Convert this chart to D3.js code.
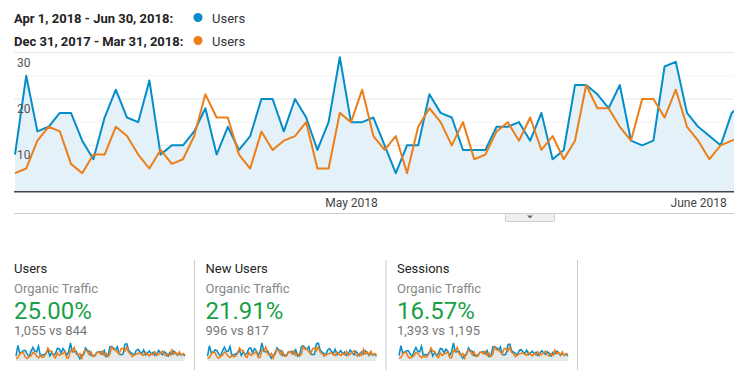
<!DOCTYPE html>
<html lang="en">
<head>
    <meta charset="UTF-8">
    <title>Users - Organic Traffic</title>
    <style>
        body { margin: 0; background: #fff; }
        svg { display: block; font-family: Roboto, "Noto Sans", sans-serif; }
    </style>
</head>
<body>
    <svg id="container" width="734" height="377"></svg>

<script src="https://cdn.jsdelivr.net/npm/d3@7"></script>
<script>
    // main chart: daily users, Apr 1 2018 onward (visible part only)
    let usersCurr = [8, 25, 13, 14, 17, 17, 11, 7, 16, 22, 16, 15, 24, 8, 10, 10, 13, 18, 8, 14,
        9, 12, 20, 20, 13, 20, 16, 9, 15, 29, 15, 15, 16, 10, 4, 10, 10, 21, 17, 16,
        9, 9, 9, 14, 14, 15, 11, 17, 7, 9, 23, 23, 21, 18, 23, 11, 10, 11, 27, 28,
        17, 14, 12, 10, 17, 19]
    let usersPrev = [4, 5, 11, 14, 13, 6, 4, 8, 8, 14, 12, 8, 5, 9, 6, 7, 12, 21, 16, 16,
        8, 5, 13, 9, 11, 12, 15, 5, 5, 17, 15, 22, 12, 9, 12, 4, 14, 18, 15, 10,
        15, 7, 8, 13, 15, 11, 16, 9, 12, 7, 11, 23, 18, 18, 14, 11, 20, 20, 16, 22,
        14, 11, 7, 10, 11, 12]
    // rest of the quarter, only seen in the sparkline
    let usersCurrTail = [15, 12, 18, 10, 13, 16, 11, 14, 9, 12, 17, 13, 10, 15, 12, 8, 14, 11, 16, 13, 9, 12, 10, 11, 8]
    let usersPrevTail = [13, 10, 9, 14, 11, 8, 12, 10, 15, 9, 11, 13, 16, 10, 8, 12, 9, 18, 11, 14, 10, 15, 9, 12, 10]

    let newCurr = [7, 22, 12, 13, 16, 15, 10, 7, 15, 20, 14, 14, 21, 8, 9, 10, 12, 16, 8, 13, 9, 11, 18, 19, 12, 18, 15, 8, 14, 26,
        14, 13, 15, 9, 4, 9, 10, 19, 16, 15, 8, 9, 8, 13, 13, 14, 10, 16, 7, 8, 21, 22, 19, 17, 21, 10, 9, 10, 25, 26,
        16, 13, 11, 9, 16, 18, 14, 11, 17, 9, 12, 15, 10, 13, 8, 11, 16, 12, 9, 14, 11, 8, 13, 10, 15, 12, 8, 11, 9, 10, 7]
    let newPrev = [4, 5, 10, 13, 12, 6, 4, 7, 8, 13, 11, 7, 5, 8, 6, 7, 11, 19, 15, 15, 7, 5, 12, 8, 10, 11, 14, 5, 5, 16,
        14, 20, 11, 8, 11, 4, 13, 17, 14, 9, 14, 7, 7, 12, 14, 10, 15, 8, 11, 7, 10, 21, 17, 17, 13, 10, 18, 19, 15, 20,
        13, 10, 7, 9, 10, 11, 12, 9, 8, 13, 10, 8, 11, 9, 14, 8, 10, 12, 15, 9, 7, 11, 8, 17, 10, 13, 9, 14, 8, 11, 9]
    let sessCurr = [10, 28, 15, 16, 19, 19, 13, 8, 18, 25, 18, 17, 27, 9, 12, 11, 15, 20, 9, 16, 10, 14, 23, 22, 15, 22, 18, 10, 17, 33,
        17, 17, 18, 11, 5, 11, 12, 24, 19, 18, 10, 11, 10, 16, 16, 17, 13, 19, 8, 10, 26, 26, 24, 20, 26, 12, 11, 13, 30, 31,
        19, 16, 14, 11, 19, 21, 17, 14, 20, 12, 15, 18, 13, 16, 10, 14, 19, 15, 12, 17, 14, 9, 16, 13, 18, 15, 10, 14, 11, 13, 9]
    let sessPrev = [5, 6, 13, 16, 15, 7, 5, 9, 9, 16, 14, 9, 6, 10, 7, 8, 14, 24, 18, 18, 9, 6, 15, 10, 13, 14, 17, 6, 6, 19,
        17, 25, 14, 10, 14, 5, 16, 20, 17, 11, 17, 8, 9, 15, 17, 13, 18, 10, 14, 8, 13, 26, 20, 20, 16, 13, 23, 23, 18, 25,
        16, 13, 8, 11, 13, 14, 15, 12, 10, 16, 13, 9, 14, 11, 17, 10, 12, 15, 18, 11, 9, 14, 10, 20, 13, 16, 11, 17, 10, 14, 12]

    let yTicks = [5, 10, 15, 20, 25, 30]
    let yLabels = [10, 20, 30]
    let monthTicks = [new Date(2018, 4, 1), new Date(2018, 5, 1)]

    let legendRanges = ["Apr 1, 2018 - Jun 30, 2018:", "Dec 31, 2017 - Mar 31, 2018:"]
    let legendNames = ["Users", "Users"]

    let cardTitles = ["Users", "New Users", "Sessions"]
    let cardSegment = "Organic Traffic"
    let cardChanges = ["25.00%", "21.91%", "16.57%"]
    let cardCompare = ["1,055 vs 844", "996 vs 817", "1,393 vs 1,195"]
    let cardSeries = [
        [usersCurr.concat(usersCurrTail), usersPrev.concat(usersPrevTail)],
        [newCurr, newPrev],
        [sessCurr, sessPrev]
    ]

    const BLUE = "#058dc7", ORANGE = "#ed7e17"
    let svg = d3.select("#container")

    // legend
    let legend = svg.append("g")
    legendRanges.forEach((t, i) => {
        let yy = 22.5 + i * 23
        legend.append("text").attr("x", 14).attr("y", yy)
            .style("font-size", "13px").style("font-weight", "bold").attr("fill", "#222").text(t)
        legend.append("circle").attr("cx", 198).attr("cy", yy - 5).attr("r", 4.5)
            .attr("fill", i == 0 ? BLUE : ORANGE)
        legend.append("text").attr("x", 212).attr("y", yy)
            .style("font-size", "13px").attr("fill", "#333").text(legendNames[i])
    })

    // main chart
    let start = new Date(2018, 3, 1)
    let dayOf = i => d3.timeDay.offset(start, i)
    let x = d3.scaleTime().domain([start, new Date(2018, 5, 30)]).range([15, 1023])
    let y = d3.scaleLinear().domain([0, 30]).range([191.7, 52.6])

    svg.append("clipPath").attr("id", "plotclip")
        .append("rect").attr("x", 14).attr("y", 40).attr("width", 720).attr("height", 152)

    let grid = svg.append("g")
    grid.selectAll("line").data(yTicks).enter().append("line")
        .attr("x1", 14).attr("x2", 734)
        .attr("y1", d => y(d)).attr("y2", d => y(d))
        .attr("stroke", d => d % 10 == 0 ? "#e6e6e6" : "#f3f3f3")
        .attr("stroke-width", 1)

    let plot = svg.append("g").attr("clip-path", "url(#plotclip)")
    let area = d3.area().x((d, i) => x(dayOf(i))).y0(y(0)).y1(d => y(d))
    let line = d3.line().x((d, i) => x(dayOf(i))).y(d => y(d))

    plot.append("path").datum(usersCurr).attr("d", area).attr("fill", "#e5f1f8")
    plot.append("path").datum(usersCurr).attr("d", line)
        .attr("fill", "none").attr("stroke", BLUE).attr("stroke-width", 2).attr("stroke-linejoin", "round")
    plot.append("path").datum(usersPrev).attr("d", line)
        .attr("fill", "none").attr("stroke", ORANGE).attr("stroke-width", 2).attr("stroke-linejoin", "round")

    svg.append("g").selectAll("text").data(yLabels).enter().append("text")
        .attr("x", 17).attr("y", d => y(d) + 14)
        .style("font-size", "12px").attr("fill", "#555").text(d => d)

    svg.append("line").attr("x1", 14).attr("x2", 734).attr("y1", y(0)).attr("y2", y(0))
        .attr("stroke", "#444").attr("stroke-width", 1.5)

    let xAxis = d3.axisBottom(x).tickValues(monthTicks).tickFormat(d3.timeFormat("%B %Y")).tickSize(0)
    let axisG = svg.append("g").attr("transform", `translate(0,${y(0)})`).call(xAxis)
    axisG.select(".domain").remove()
    axisG.selectAll("text").attr("dy", "1.05em").attr("fill", "#444")
        .style("font-size", "12px").style("font-family", "Roboto, sans-serif")

    // bottom rule with the little tab
    svg.append("line").attr("x1", 14).attr("x2", 734).attr("y1", 213.5).attr("y2", 213.5)
        .attr("stroke", "#ccc")
    svg.append("rect").attr("x", 505.5).attr("y", 213.5).attr("width", 49).attr("height", 8)
        .attr("fill", "#efefef").attr("stroke", "#ccc").attr("rx", 1)
    svg.append("path").attr("d", "M527,215.5 L533,215.5 L530,218.5 Z").attr("fill", "#666")

    // scorecards
    let cardX = [14, 205.5, 397]
    let cardW = 171
    cardX.forEach((cx, i) => {
        let g = svg.append("g").attr("transform", `translate(${cx},0)`)
        g.append("text").attr("y", 272.5).style("font-size", "13px").attr("fill", "#222").text(cardTitles[i])
        g.append("text").attr("y", 292.5).style("font-size", "13px").attr("fill", "#888").text(cardSegment)
        g.append("text").attr("y", 318.5).style("font-size", "24px").attr("fill", "#1a9f48").text(cardChanges[i])
        g.append("text").attr("y", 335).style("font-size", "13px").attr("fill", "#777").text(cardCompare[i])

        let [cur, prev] = cardSeries[i]
        let sx = d3.scaleLinear().domain([0, cur.length - 1]).range([2, cardW])
        let sy = d3.scaleLinear().domain([0, d3.max(cur.concat(prev))]).range([361, 343])
        let sArea = d3.area().x((d, j) => sx(j)).y0(sy(0)).y1(d => sy(d))
        let sLine = d3.line().x((d, j) => sx(j)).y(d => sy(d))
        g.append("path").datum(cur).attr("d", sArea).attr("fill", "#e4e9e9")
        g.append("path").datum(cur).attr("d", sLine).attr("fill", "none").attr("stroke", BLUE).attr("stroke-width", 1.5)
        g.append("path").datum(prev).attr("d", sLine).attr("fill", "none").attr("stroke", ORANGE).attr("stroke-width", 1.5)

        svg.append("line").attr("x1", cx + 180.5).attr("x2", cx + 180.5).attr("y1", 260).attr("y2", 370)
            .attr("stroke", "#ccc")
    })
</script>
</body>
</html>
